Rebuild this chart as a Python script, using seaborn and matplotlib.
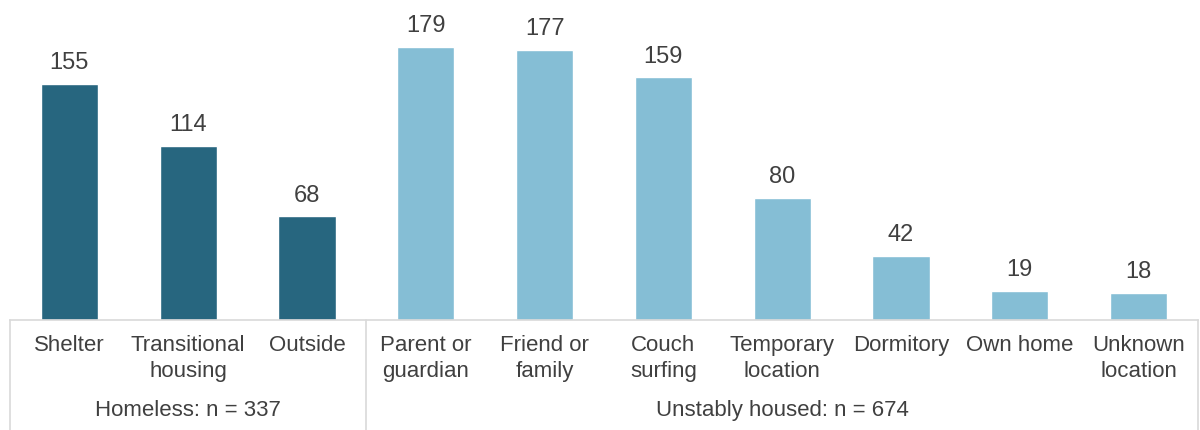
import matplotlib
matplotlib.use("Agg")
import matplotlib.pyplot as plt
import matplotlib.transforms as mtransforms
import seaborn as sns
import pandas as pd

categories = ["Shelter", "Transitional\nhousing", "Outside",
              "Parent or\nguardian", "Friend or\nfamily", "Couch\nsurfing",
              "Temporary\nlocation", "Dormitory", "Own home", "Unknown\nlocation"]
values = [155, 114, 68, 179, 177, 159, 80, 42, 19, 18]
groups = ["Homeless"] * 3 + ["Unstably housed"] * 7
group_labels = ["Homeless: n = 337", "Unstably housed: n = 674"]
colors = {"Homeless": "#27667F", "Unstably housed": "#85BED5"}

sns.set_style("white")
plt.rcParams["font.family"] = ["Liberation Sans", "DejaVu Sans"]
text_color = "#404040"
line_color = "#D9D9D9"

df = pd.DataFrame({"cat": categories, "val": values, "grp": groups})

fig = plt.figure(figsize=(12, 4.3), dpi=100)
ax = fig.add_axes([10 / 1200, 110 / 430, 1188 / 1200, 320 / 430])

sns.barplot(data=df, x="cat", y="val", hue="grp", palette=colors,
            dodge=False, width=0.48, ax=ax, legend=False, saturation=1)

for c in ax.containers:
    ax.bar_label(c, padding=7, fontsize=17, color=text_color)

ax.set_xlim(-0.5, len(categories) - 0.5)
ax.set_ylim(0, 209.8)
ax.set_xlabel("")
ax.set_ylabel("")
ax.set_yticks([])
ax.tick_params(axis="x", length=0, pad=11, labelsize=16, labelcolor=text_color)
for lbl in ax.get_xticklabels():
    lbl.set_multialignment("center")
    lbl.set_linespacing(1.3)

for s in ["top", "left", "right"]:
    ax.spines[s].set_visible(False)
ax.spines["bottom"].set_color(line_color)
ax.spines["bottom"].set_linewidth(1.2)

trans = mtransforms.blended_transform_factory(ax.transData, ax.transAxes)
for xv in [-0.5, 2.5, len(categories) - 0.5]:
    ax.plot([xv, xv], [0, -0.35], transform=trans, color=line_color,
            lw=1.2, clip_on=False)

n_home = groups.count("Homeless")
n_all = len(categories)
ax.text((n_home - 1) / 2, -0.284, group_labels[0], transform=trans,
        ha="center", va="center", fontsize=16, color=text_color)
ax.text((n_home + n_all - 1) / 2, -0.284, group_labels[1], transform=trans,
        ha="center", va="center", fontsize=16, color=text_color)

fig.savefig("out.png", dpi=100)
